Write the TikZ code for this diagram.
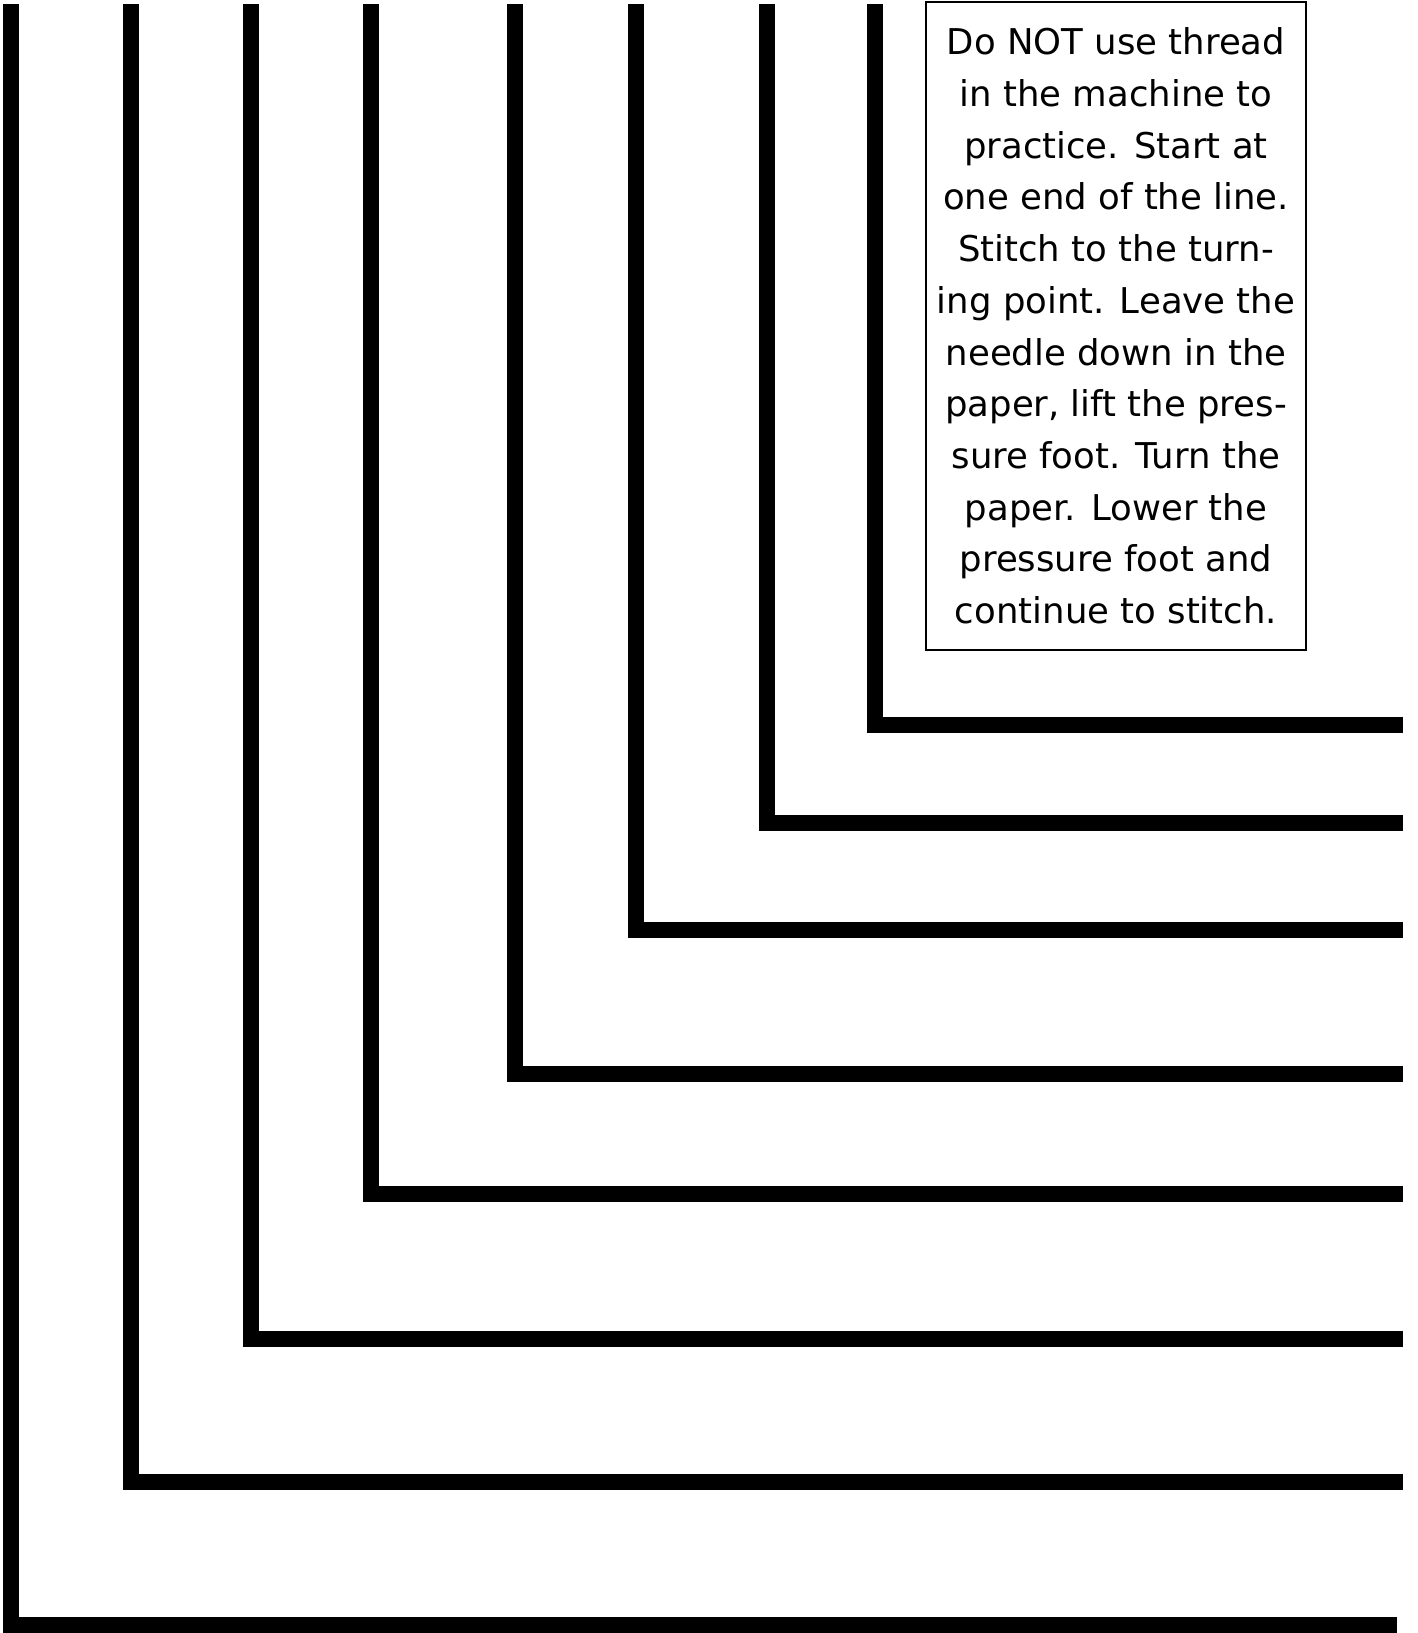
\documentclass[tikz,border=0pt]{standalone}
\usepackage{fontspec}
\setmainfont{DejaVu Sans}
\begin{document}
\begin{tikzpicture}[x=1pt,y=-1pt,
  bar/.style={line width=16pt,line cap=butt,line join=miter,black},
  notebox/.style={draw,line width=2pt,minimum width=380pt,minimum height=648pt,
    inner sep=0pt,align=center,font=\fontsize{35.5}{51.7}\selectfont}]
\useasboundingbox[fill=white] (0,0) rectangle (1417,1633);
\draw[bar] (11,4) |- (1397,1625);
\draw[bar] (130.5,4) |- (1403,1482);
\draw[bar] (250.5,4) |- (1403,1338.5);
\draw[bar] (371,4) |- (1403,1193.5);
\draw[bar] (515,4) |- (1403,1074);
\draw[bar] (635.5,4) |- (1403,930);
\draw[bar] (767,4) |- (1403,823);
\draw[bar] (875,4) |- (1403,725);
\node[notebox] (note) at (1116,326) {Do NOT use thread\\in the machine to\\practice. Start at\\one end of the line.\\Stitch to the turn-\\ing point. Leave the\\needle down in the\\paper, lift the pres-\\sure foot. Turn the\\paper. Lower the\\pressure foot and\\continue to stitch.};
\end{tikzpicture}
\end{document}
